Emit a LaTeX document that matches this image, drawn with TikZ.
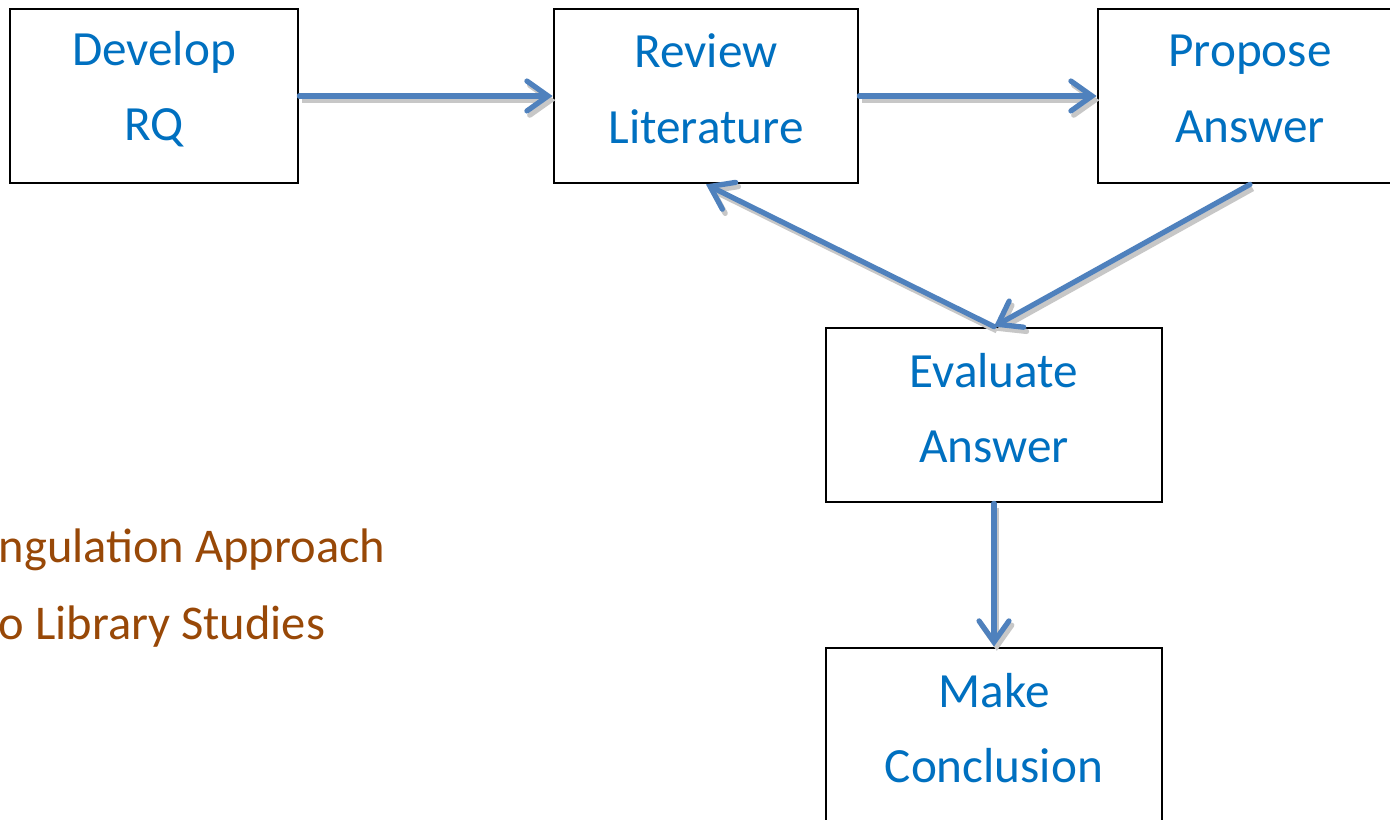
\documentclass[tikz,border=0pt]{standalone}
\usepackage{fontspec}
\setmainfont{Carlito}
\usetikzlibrary{arrows.meta}
\definecolor{txtblue}{HTML}{0070C0}
\definecolor{arrblue}{HTML}{4F81BD}
\definecolor{titlebrown}{HTML}{984807}
\tikzset{
  stepbox/.style={draw=black, line width=0.8pt, fill=white,
    inner sep=0pt, minimum height=1.74cm},
  steptext/.style={align=center, text=txtblue, inner sep=0pt, yshift=2pt,
    font=\fontsize{14pt}{21.5pt}\selectfont},
  barb/.tip={Straight Barb[length=6pt,width=8.5pt,line cap=round]},
  conn/.style={draw=arrblue, line width=1.5pt, line cap=round, -barb,
    preaction={draw=black!22, line width=1.5pt,
      transform canvas={xshift=0.8pt, yshift=-1.2pt}}},
  titletext/.style={text=titlebrown, inner sep=0pt,
    font=\fontsize{13.8pt}{21.5pt}\selectfont}
}
\begin{document}
\begin{tikzpicture}
\useasboundingbox (0,0) rectangle (13.9,-8.2);
\clip (0,0) rectangle (13.9,-8.2);

% process boxes, each with its two-line caption
\node[stepbox, minimum width=2.88cm, label={[steptext]center:{Develop\\RQ}}] (dev) at (1.54,-0.96) {};
\node[stepbox, minimum width=3.04cm, label={[steptext]center:{Review\\Literature}}] (rev) at (7.06,-0.96) {};
\node[stepbox, minimum width=3.04cm, label={[steptext]center:{Propose\\Answer}}] (prop) at (12.50,-0.96) {};
\node[stepbox, minimum width=3.36cm, label={[steptext]center:{Evaluate\\Answer}}] (eval) at (9.94,-4.15) {};
\node[stepbox, minimum width=3.36cm, label={[steptext]center:{Make\\Conclusion}}] (make) at (9.94,-7.35) {};

% connectors
\draw[conn] (dev.east) -- (rev.west);
\draw[conn] (rev.east) -- (prop.west);
\draw[conn] (eval.north) -- (rev.south);
\draw[conn] (prop.south) -- (eval.north);
\draw[conn] (eval.south) -- (make.north);

% title lines
\node[titletext, anchor=base west] (t1) at (-0.02,-5.63) {ngulation Approach};
\node[titletext, anchor=base west] (t2) at (-0.02,-6.40) {o Library Studies};
\end{tikzpicture}
\end{document}
